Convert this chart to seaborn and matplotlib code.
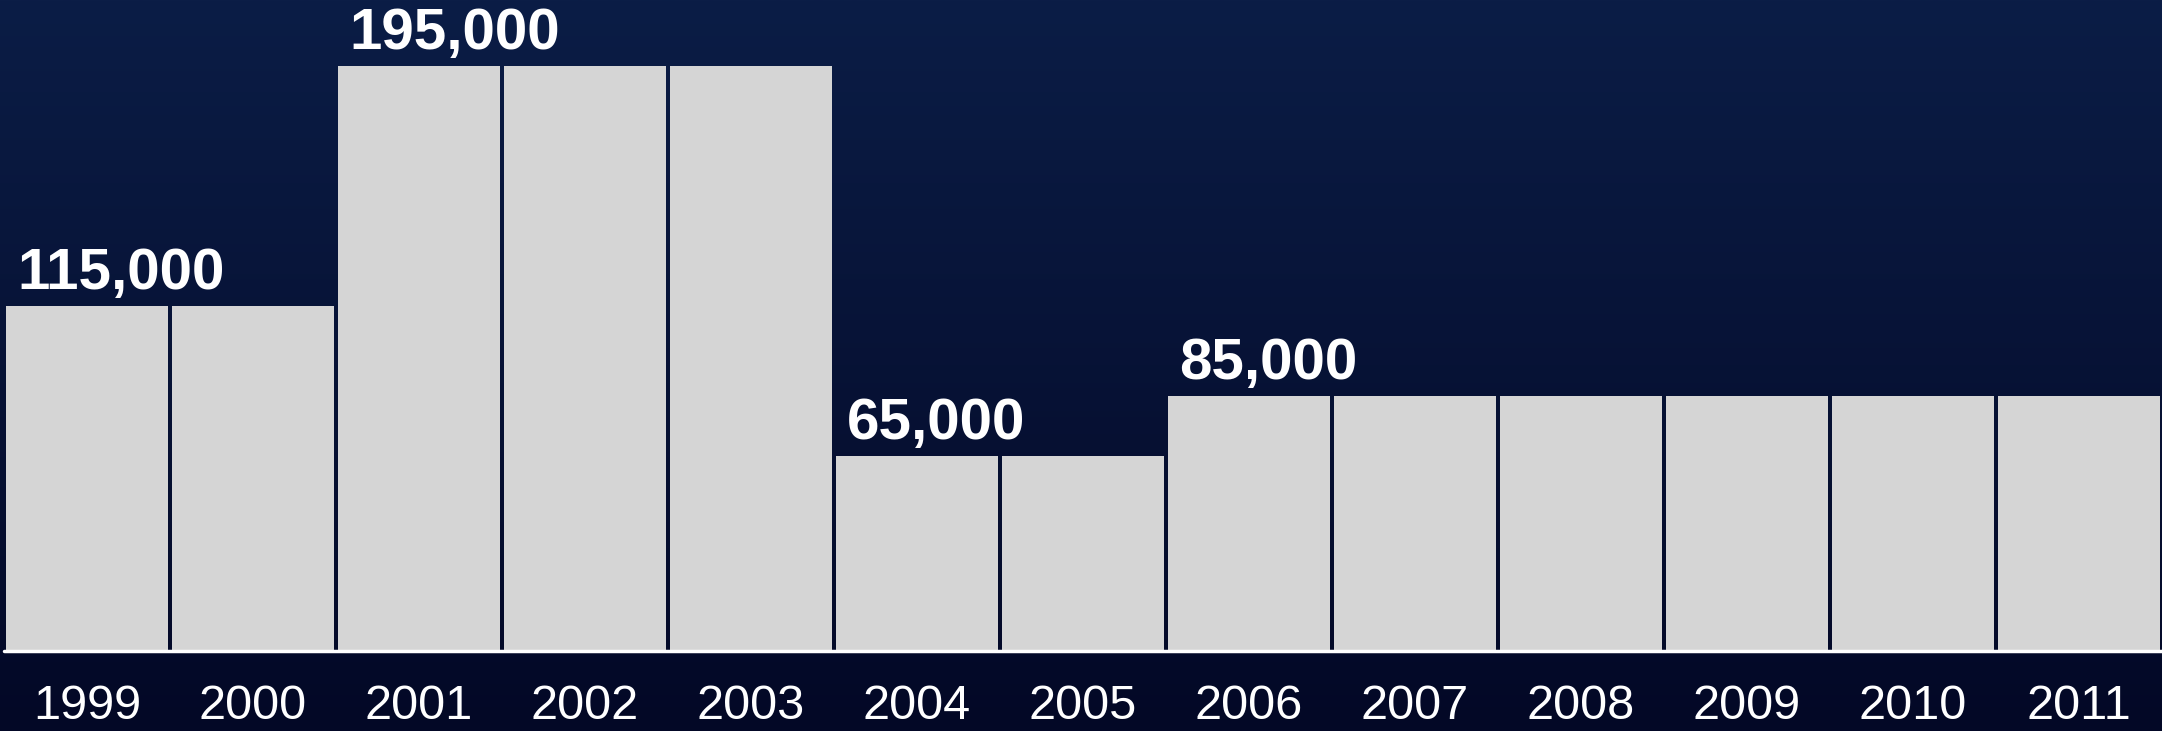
import numpy as np
import pandas as pd
import matplotlib
matplotlib.use("Agg")
import matplotlib.pyplot as plt
import seaborn as sns

# ---- data ----
years = ["1999", "2000", "2001", "2002", "2003", "2004", "2005",
         "2006", "2007", "2008", "2009", "2010", "2011"]
values = [115000, 115000, 195000, 195000, 195000, 65000, 65000,
          85000, 85000, 85000, 85000, 85000, 85000]
label_years = ["1999", "2001", "2004", "2006"]
label_texts = ["115,000", "195,000", "65,000", "85,000"]

sns.set_theme(style="white")
plt.rcParams["font.family"] = ["Liberation Sans", "DejaVu Sans"]

W, H = 2162, 731
fig = plt.figure(figsize=(W / 100, H / 100), dpi=100)

# background gradient
bg = fig.add_axes([0, 0, 1, 1], zorder=0)
top = np.array([11, 29, 70]) / 255.0
bot = np.array([3, 8, 38]) / 255.0
t = np.linspace(0, 1, 256)[:, None]
grad = top[None, :] * (1 - t) + bot[None, :] * t
grad = np.repeat(grad[:, None, :], 2, axis=1)
bg.imshow(grad, aspect="auto", extent=[0, 1, 0, 1], origin="upper")
bg.set_axis_off()

ax = fig.add_axes([4 / W, 80 / H, 1 - 4 / W, 651 / H], zorder=1)
ax.set_facecolor("none")

df = pd.DataFrame({"year": years, "value": values})
sns.barplot(data=df, x="year", y="value", order=years, color="#d5d5d5",
            saturation=1, width=0.97, ax=ax, linewidth=0)

ax.set_xlim(-0.5, len(years) - 0.5)
ax.set_ylim(0, 217000)
for s in ax.spines.values():
    s.set_visible(False)
ax.set_yticks([])
ax.set_xlabel("")
ax.set_ylabel("")
ax.tick_params(axis="x", length=0, pad=24, labelsize=35, labelcolor="white")

ax.axhline(0, color="white", lw=2.5, clip_on=False, zorder=5)

for yr, txt in zip(label_years, label_texts):
    i = years.index(yr)
    v = values[i]
    ax.text(i - 0.485 + 0.065, v + 1500, txt, ha="left", va="bottom",
            color="white", fontsize=42, fontweight="bold")

fig.savefig("out.png", dpi=100)
